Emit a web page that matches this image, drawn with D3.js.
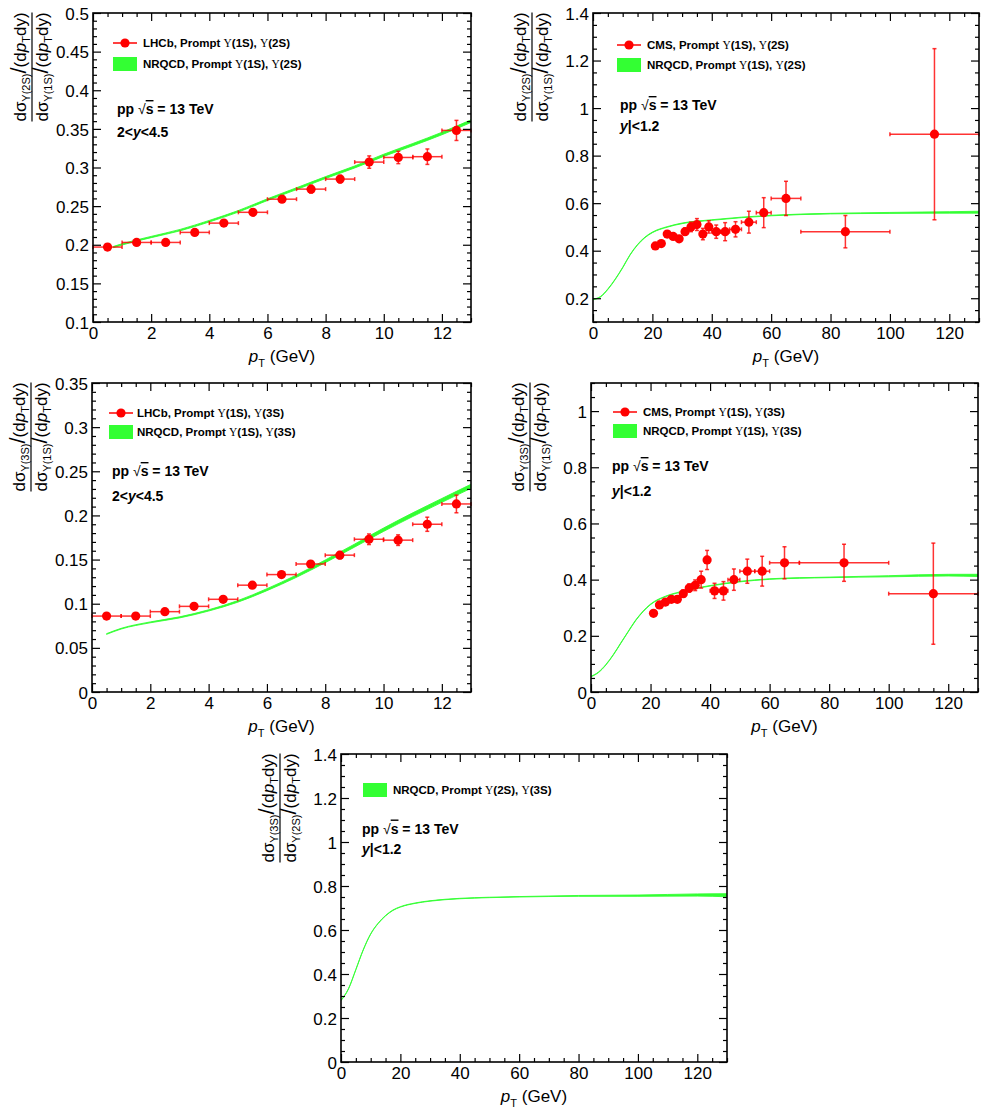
<!DOCTYPE html>
<html>
<head>
<meta charset="utf-8">
<script src="https://cdn.jsdelivr.net/npm/d3@7"></script>
<style>
body { margin: 0; background: #fff; }
text { font-family: "Liberation Sans", Arial, Helvetica, sans-serif; }
</style>
</head>
<body>
<svg id="chart" width="988" height="1116"></svg>
<script>
// ---- data ----
// LHCb, 2<y<4.5, 1 GeV bins
const ptLHCb = [0.5, 1.5, 2.5, 3.5, 4.5, 5.5, 6.5, 7.5, 8.5, 9.5, 10.5, 11.5, 12.5];
const lhcbHalf = [0.5, 0.5, 0.5, 0.5, 0.5, 0.5, 0.5, 0.5, 0.5, 0.5, 0.5, 0.5, 0.5];
const lhcb21 = [0.197, 0.203, 0.203, 0.216, 0.228, 0.242, 0.259, 0.272, 0.285, 0.307, 0.313, 0.314, 0.348];
const lhcb21Err = [0.004, 0.003, 0.003, 0.003, 0.003, 0.003, 0.004, 0.005, 0.005, 0.008, 0.008, 0.010, 0.013];
const lhcb31 = [0.086, 0.086, 0.091, 0.097, 0.105, 0.121, 0.133, 0.145, 0.155, 0.173, 0.172, 0.190, 0.213];
const lhcb31Err = [0.002, 0.002, 0.002, 0.002, 0.003, 0.003, 0.003, 0.003, 0.004, 0.006, 0.006, 0.008, 0.010];

// CMS, |y|<1.2
const ptCMS = [21, 23, 25, 27, 29, 31, 33, 35, 37, 39, 41.5, 44.5, 48, 52.5, 57.5, 65, 85, 115];
const cmsHalf = [1, 1, 1, 1, 1, 1, 1, 1, 1, 1, 1.5, 1.5, 2, 2.5, 2.5, 5, 15, 15];
const cms21 = [0.42, 0.43, 0.47, 0.46, 0.45, 0.48, 0.50, 0.51, 0.47, 0.50, 0.48, 0.48, 0.49, 0.52, 0.56, 0.62, 0.48, 0.89];
const cms21Err = [0.008, 0.01, 0.012, 0.012, 0.012, 0.015, 0.02, 0.025, 0.024, 0.026, 0.028, 0.038, 0.032, 0.046, 0.063, 0.072, 0.068, 0.36];
const cms31 = [0.28, 0.31, 0.32, 0.33, 0.33, 0.35, 0.37, 0.38, 0.40, 0.47, 0.36, 0.36, 0.40, 0.43, 0.43, 0.46, 0.46, 0.35];
const cms31Err = [0.008, 0.01, 0.01, 0.01, 0.01, 0.012, 0.015, 0.019, 0.03, 0.034, 0.027, 0.033, 0.038, 0.043, 0.053, 0.057, 0.066, 0.18];

// NRQCD bands (central value and half width)
const ptNrqcd21F = [0.7, 1, 2, 3, 4, 5, 6, 7, 8, 9, 10, 11, 12, 13];
const nrqcd21F = [0.197, 0.2005, 0.21, 0.219, 0.2305, 0.2433, 0.2584, 0.2726, 0.287, 0.3007, 0.3158, 0.3296, 0.344, 0.36];
const nrqcd21FErr = [0.0008, 0.0008, 0.0008, 0.0009, 0.001, 0.001, 0.0011, 0.0012, 0.0012, 0.0013, 0.0014, 0.0015, 0.0016, 0.0017];

const ptNrqcd31F = [0.5, 1, 2, 3, 4, 5, 6, 7, 8, 9, 10, 11, 12, 13];
const nrqcd31F = [0.0657, 0.0717, 0.0789, 0.0845, 0.0924, 0.1026, 0.1159, 0.131, 0.148, 0.1657, 0.1838, 0.2008, 0.217, 0.233];
const nrqcd31FErr = [0.0004, 0.0004, 0.0005, 0.0006, 0.0007, 0.0009, 0.0011, 0.0013, 0.0015, 0.0017, 0.0019, 0.0021, 0.0022, 0.0023];

const ptNrqcdC = [0, 2.5, 5, 7.5, 10, 12.5, 15, 17.5, 20, 25, 30, 40, 50, 60, 80, 100, 120, 130];
const nrqcd21C = [0.195, 0.206, 0.238, 0.28, 0.329, 0.383, 0.425, 0.456, 0.477, 0.5, 0.515, 0.529, 0.54, 0.548, 0.556, 0.559, 0.561, 0.562];
const nrqcd21CErr = [0.0012, 0.0012, 0.0012, 0.0012, 0.0012, 0.0012, 0.0012, 0.0012, 0.0012, 0.0012, 0.0012, 0.0012, 0.0012, 0.0012, 0.0012, 0.002, 0.003, 0.004];
const nrqcd31C = [0.055, 0.07, 0.097, 0.1325, 0.174, 0.215, 0.255, 0.287, 0.312, 0.34, 0.356, 0.378, 0.393, 0.402, 0.408, 0.412, 0.416, 0.415];
const nrqcd31CErr = [0.001, 0.001, 0.001, 0.001, 0.001, 0.001, 0.001, 0.001, 0.001, 0.001, 0.001, 0.001, 0.001, 0.001, 0.001, 0.002, 0.003, 0.004];

const ptNrqcd32 = [0, 2.5, 5, 7.5, 10, 12.5, 15, 17.5, 20, 25, 30, 40, 50, 60, 80, 100, 120, 130];
const nrqcd32C = [0.28, 0.332, 0.42, 0.51, 0.582, 0.63, 0.665, 0.69, 0.705, 0.722, 0.732, 0.743, 0.748, 0.751, 0.755, 0.756, 0.759, 0.758];
const nrqcd32CErr = [0.001, 0.001, 0.001, 0.001, 0.001, 0.001, 0.001, 0.001, 0.001, 0.001, 0.001, 0.001, 0.001, 0.001, 0.002, 0.003, 0.005, 0.007];

// ---- style ----
const RED = "#ff0000";
const GREEN = "#33ff33";
const SERIF = "'Liberation Serif','DejaVu Serif',serif";

const svg = d3.select("#chart");

// text with sub/italic pieces
function rich(t, segs) {
  segs.forEach(s => {
    const ts = t.append("tspan").text(s.t);
    if (s.it) ts.attr("font-style", "italic");
    if (s.serif) ts.attr("font-family", SERIF).attr("font-weight", "normal");
    if (s.thin) ts.attr("font-weight", "normal");
    if (s.fs) ts.attr("font-size", s.fs);
    if (s.dy) ts.attr("dy", s.dy);
    if (s.over) ts.attr("text-decoration", "overline");
  });
  return t;
}

function ratioSegs(st) {
  return [
    {t: "dσ"}, {t: "Υ(" + st + ")", fs: 11, dy: 4}, {t: "/", fs: 22, dy: -4},
    {t: "(d"}, {t: "p", it: true}, {t: "T", fs: 11, dy: 4}, {t: "dy)", dy: -4}
  ];
}

function states(a, b) {
  return [{t: "Υ", serif: true}, {t: "(" + a + "), "}, {t: "Υ", serif: true}, {t: "(" + b + ")"}];
}

const ppSegs = [{t: "pp "}, {t: "√", thin: true}, {t: "s", over: true}, {t: " = 13 TeV"}];
const fwdSegs = [{t: "2<"}, {t: "y", it: true}, {t: "<4.5"}];
const cenSegs = [{t: "y", it: true}, {t: "|<1.2"}];

const panels = [
  {x: 93, y: 13, w: 378, h: 309, xMax: 13, xMaj: 2, xMin: 0.5, yLo: 0.1, yHi: 0.5, yMaj: 0.05, yMin: 0.01,
   num: "2S", den: "1S",
   data: {pt: ptLHCb, half: lhcbHalf, v: lhcb21, e: lhcb21Err}, exp: "LHCb", st: ["1S", "2S"],
   band: {pt: ptNrqcd21F, v: nrqcd21F, e: nrqcd21FErr},
   leg: {sx: 32, tx: 50, r1: 30, r2: 51}, lab: {x: 24, r1: 96, r2: 119}, rap: fwdSegs},
  {x: 593, y: 13, w: 386, h: 309, xMax: 130, xMaj: 20, xMin: 5, yLo: 0.1, yHi: 1.4, yMaj: 0.2, yMin: 0.05,
   num: "2S", den: "1S",
   data: {pt: ptCMS, half: cmsHalf, v: cms21, e: cms21Err}, exp: "CMS", st: ["1S", "2S"],
   band: {pt: ptNrqcdC, v: nrqcd21C, e: nrqcd21CErr},
   leg: {sx: 36, tx: 54, r1: 32, r2: 52}, lab: {x: 27, r1: 92, r2: 113}, rap: cenSegs},
  {x: 92, y: 383, w: 379, h: 309, xMax: 13, xMaj: 2, xMin: 0.5, yLo: 0, yHi: 0.35, yMaj: 0.05, yMin: 0.01,
   num: "3S", den: "1S",
   data: {pt: ptLHCb, half: lhcbHalf, v: lhcb31, e: lhcb31Err}, exp: "LHCb", st: ["1S", "3S"],
   band: {pt: ptNrqcd31F, v: nrqcd31F, e: nrqcd31FErr},
   leg: {sx: 29, tx: 45, r1: 30, r2: 49}, lab: {x: 20, r1: 88, r2: 113}, rap: fwdSegs},
  {x: 591, y: 383, w: 387, h: 309, xMax: 130, xMaj: 20, xMin: 5, yLo: 0, yHi: 1.1, yMaj: 0.2, yMin: 0.05,
   num: "3S", den: "1S",
   data: {pt: ptCMS, half: cmsHalf, v: cms31, e: cms31Err}, exp: "CMS", st: ["1S", "3S"],
   band: {pt: ptNrqcdC, v: nrqcd31C, e: nrqcd31CErr},
   leg: {sx: 34, tx: 52, r1: 29, r2: 48}, lab: {x: 21, r1: 83, r2: 108}, rap: cenSegs},
  {x: 341, y: 754, w: 386, h: 308, xMax: 130, xMaj: 20, xMin: 5, yLo: 0, yHi: 1.4, yMaj: 0.2, yMin: 0.05,
   num: "3S", den: "2S",
   data: null, st: ["2S", "3S"],
   band: {pt: ptNrqcd32, v: nrqcd32C, e: nrqcd32CErr},
   leg: {sx: 34, tx: 52, r2: 36}, lab: {x: 21, r1: 74.5, r2: 94.5}, rap: cenSegs}
];

function steps(lo, hi, step) {
  const out = [];
  for (let i = Math.ceil(lo / step - 1e-9); i * step <= hi + 1e-9; i++) out.push(+(i * step).toFixed(6));
  return out;
}
const fmt = d => String(+d.toFixed(3));

panels.forEach((p, pi) => {
  const g = svg.append("g").attr("transform", `translate(${p.x},${p.y})`);
  const x = d3.scaleLinear().domain([0, p.xMax]).range([0, p.w]);
  const y = d3.scaleLinear().domain([p.yLo, p.yHi]).range([p.h, 0]);

  g.append("clipPath").attr("id", "clip" + pi)
    .append("rect").attr("width", p.w).attr("height", p.h);

  // NRQCD band
  const bd = p.band.pt.map((t, i) => ({t: t, v: p.band.v[i], e: p.band.e[i]}));
  const area = d3.area().curve(d3.curveMonotoneX)
    .x(d => x(d.t)).y0(d => y(d.v - d.e)).y1(d => y(d.v + d.e));
  g.append("path").datum(bd).attr("d", area)
    .attr("clip-path", `url(#clip${pi})`)
    .attr("fill", GREEN).attr("stroke", GREEN).attr("stroke-width", 0.9);

  // data points
  if (p.data) {
    const pts = p.data.pt.map((t, i) => ({t: t, h: p.data.half[i], v: p.data.v[i], e: p.data.e[i]}));
    const eg = g.append("g").attr("stroke", RED).attr("stroke-width", 1.5).attr("stroke-opacity", 0.8);
    const pg = eg.selectAll("g").data(pts).join("g");
    pg.append("line").attr("x1", d => x(d.t - d.h)).attr("x2", d => x(d.t + d.h))
      .attr("y1", d => y(d.v)).attr("y2", d => y(d.v));
    pg.append("line").attr("x1", d => x(d.t)).attr("x2", d => x(d.t))
      .attr("y1", d => y(d.v - d.e)).attr("y2", d => y(d.v + d.e));
    // end caps
    [-1, 1].forEach(s => {
      pg.append("line").attr("x1", d => x(d.t + s * d.h)).attr("x2", d => x(d.t + s * d.h))
        .attr("y1", d => y(d.v) - 2).attr("y2", d => y(d.v) + 2);
      pg.append("line").attr("y1", d => y(d.v + s * d.e)).attr("y2", d => y(d.v + s * d.e))
        .attr("x1", d => x(d.t) - 2).attr("x2", d => x(d.t) + 2);
    });
    g.append("g").selectAll("circle").data(pts).join("circle")
      .attr("cx", d => x(d.t)).attr("cy", d => y(d.v)).attr("r", 4.6).attr("fill", RED);
  }

  // axes: ticks on all four sides, pointing inwards
  const xMaj = steps(0, p.xMax, p.xMaj), xMin = steps(0, p.xMax, p.xMin);
  const yMaj = steps(p.yLo, p.yHi, p.yMaj), yMin = steps(p.yLo, p.yHi, p.yMin);
  function ax(gen, pos, vals, len, lab) {
    const a = g.append("g").attr("transform", pos)
      .call(gen.tickValues(vals).tickSizeInner(-len).tickSizeOuter(0)
        .tickPadding(4).tickFormat(lab ? fmt : () => ""));
    a.select(".domain").remove();
    a.selectAll("line").attr("stroke", "#000").attr("stroke-width", 1.2);
    a.attr("font-size", 17).attr("font-family", null);
    return a;
  }
  const bx = ax(d3.axisBottom(x), `translate(0,${p.h})`, xMaj, 8, true);
  bx.selectAll("text").attr("dy", "0.71em").attr("y", 5);
  ax(d3.axisBottom(x), `translate(0,${p.h})`, xMin.filter(v => !xMaj.includes(v)), 4, false);
  ax(d3.axisTop(x), "translate(0,0)", xMaj, 8, false);
  ax(d3.axisTop(x), "translate(0,0)", xMin.filter(v => !xMaj.includes(v)), 4, false);
  const ly = ax(d3.axisLeft(y), "translate(0,0)", yMaj, 8, true);
  ly.selectAll("text").attr("x", -4).attr("dy", "0.36em");
  ax(d3.axisLeft(y), "translate(0,0)", yMin.filter(v => !yMaj.includes(v)), 4, false);
  ax(d3.axisRight(y), `translate(${p.w},0)`, yMaj, 8, false);
  ax(d3.axisRight(y), `translate(${p.w},0)`, yMin.filter(v => !yMaj.includes(v)), 4, false);

  g.append("rect").attr("width", p.w).attr("height", p.h)
    .attr("fill", "none").attr("stroke", "#000").attr("stroke-width", 1.6);

  // x title
  rich(g.append("text").attr("x", p.w / 2).attr("y", p.h + 40).attr("text-anchor", "middle").attr("font-size", 17),
    [{t: "p", it: true}, {t: "T", fs: 11, dy: 5}, {t: " (GeV)", dy: -5}]);

  // y title: fraction
  const yt = svg.append("g").attr("transform", `translate(${p.x - 61},${p.y + 54}) rotate(-90)`);
  const tn = rich(yt.append("text").attr("text-anchor", "middle").attr("y", -6).attr("font-size", 17), ratioSegs(p.num));
  const td = rich(yt.append("text").attr("text-anchor", "middle").attr("y", 16).attr("font-size", 17), ratioSegs(p.den));
  const tw = Math.max(tn.node().getComputedTextLength(), td.node().getComputedTextLength());
  yt.append("line").attr("x1", -tw / 2).attr("x2", tw / 2).attr("stroke", "#000").attr("stroke-width", 1.2);

  // legend
  const L = p.leg;
  if (p.data) {
    g.append("line").attr("x1", L.sx - 12).attr("x2", L.sx + 12).attr("y1", L.r1).attr("y2", L.r1)
      .attr("stroke", RED).attr("stroke-width", 1.5);
    g.append("circle").attr("cx", L.sx).attr("cy", L.r1).attr("r", 4.6).attr("fill", RED);
    rich(g.append("text").attr("x", L.tx).attr("y", L.r1 + 4).attr("font-size", 11.5).attr("font-weight", "bold"),
      [{t: p.exp + ", Prompt "}].concat(states(p.st[0], p.st[1])));
  }
  g.append("rect").attr("x", L.sx - 12).attr("y", L.r2 - 7).attr("width", 24).attr("height", 14).attr("fill", GREEN);
  rich(g.append("text").attr("x", L.tx).attr("y", L.r2 + 4).attr("font-size", 11.5).attr("font-weight", "bold"),
    [{t: "NRQCD, Prompt "}].concat(states(p.st[0], p.st[1])));

  rich(g.append("text").attr("x", p.lab.x).attr("y", p.lab.r1 + 5).attr("font-size", 14).attr("font-weight", "bold"), ppSegs);
  rich(g.append("text").attr("x", p.lab.x).attr("y", p.lab.r2 + 5).attr("font-size", 14).attr("font-weight", "bold"), p.rap);
});
</script>
</body>
</html>
